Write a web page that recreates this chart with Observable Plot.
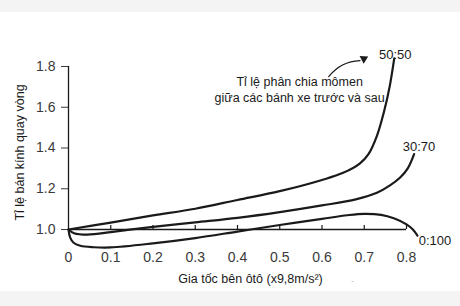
<!DOCTYPE html>
<html>
<head>
<meta charset="utf-8">
<script src="https://cdn.jsdelivr.net/npm/d3@7"></script>
<script src="https://cdn.jsdelivr.net/npm/@observablehq/plot@0.6"></script>
<style>
  html, body { margin: 0; padding: 0; background: #ffffff; }
</style>
</head>
<body>
<div id="chart"></div>
<script>
// ---- data ----
const xTicks = [0, 0.1, 0.2, 0.3, 0.4, 0.5, 0.6, 0.7, 0.8];
const yTicks = [1.0, 1.2, 1.4, 1.6, 1.8];

const s5050X = [0, 0.1, 0.2, 0.3, 0.4, 0.5, 0.6, 0.65, 0.69, 0.71, 0.73, 0.747, 0.76, 0.771];
const s5050Y = [1.0, 1.034, 1.069, 1.102, 1.145, 1.188, 1.243, 1.278, 1.325, 1.37, 1.46, 1.58, 1.70, 1.84];

const s3070X = [0, 0.013, 0.045, 0.1, 0.14, 0.2, 0.3, 0.4, 0.5, 0.6, 0.68, 0.73, 0.76, 0.785, 0.803, 0.818];
const s3070Y = [1.0, 0.982, 0.975, 0.987, 0.998, 1.013, 1.035, 1.057, 1.085, 1.118, 1.148, 1.18, 1.215, 1.255, 1.3, 1.37];

const s0100X = [0, 0.004, 0.012, 0.028, 0.06, 0.1, 0.2, 0.3, 0.4, 0.5, 0.6, 0.66, 0.7, 0.74, 0.77, 0.8, 0.815, 0.826];
const s0100Y = [1.0, 0.96, 0.935, 0.92, 0.913, 0.912, 0.932, 0.958, 0.99, 1.022, 1.052, 1.07, 1.077, 1.072, 1.055, 1.025, 1.0, 0.97];

const seriesNames = ["50:50", "30:70", "0:100"];
const labelX = [0.735, 0.791, 0.829];
const labelY = [1.855, 1.405, 0.946];

const annotation = "Tỉ lệ phân chia mômen\ngiữa các bánh xe trước và sau";
const annotX = [0.547];
const annotY = [1.69];
const arrowFrom = [0.616, 1.75];
const arrowTo = [0.69, 1.829];
const arrowHead = [0.699, 1.838];

const xLabel = "Gia tốc bên ôtô (x9,8m/s²)";
const yLabel = "Tỉ lệ bán kính quay vòng";

// ---- tables built from the arrays ----
const toRows = (xs, ys, name) => xs.map((x, i) => ({x, y: ys[i], name}));
const curves = [
  ...toRows(s5050X, s5050Y, seriesNames[0]),
  ...toRows(s3070X, s3070Y, seriesNames[1]),
  ...toRows(s0100X, s0100Y, seriesNames[2])
];
const labels = seriesNames.map((n, i) => ({name: n, x: labelX[i], y: labelY[i]}));

const ink = "#1a1a1a";
const fmtX = d => d === 0 ? "0" : d.toFixed(1);

const chart = Plot.plot({
  width: 460,
  height: 306,
  marginLeft: 68,
  marginRight: 54,
  marginTop: 66,
  marginBottom: 77,
  x: {domain: [0, 0.8]},
  y: {domain: [1.0, 1.8]},
  style: {
    fontFamily: "'Liberation Sans', Arial, sans-serif",
    background: "linear-gradient(#f4f4f4 0px, #f4f4f4 12px, #ffffff 12px, #ffffff 291px, #f4f4f4 291px)",
    color: ink
  },
  marks: [
    Plot.axisY({ticks: yTicks, tickFormat: d => d.toFixed(1), tickSize: 7, tickPadding: 6, fontSize: 14, color: "#3a3a3a", label: null}),
    Plot.axisX({ticks: xTicks, tickFormat: fmtX, tickSize: 0, tickPadding: 23, fontSize: 14, color: "#3a3a3a", label: null}),
    Plot.ruleX(xTicks.slice(1), {y1: 1.0, y2: 1.02, stroke: ink, strokeWidth: 1.2}),
    Plot.ruleY([1.0], {stroke: ink, strokeWidth: 1.3}),
    Plot.ruleX([0], {stroke: ink, strokeWidth: 1.3}),
    Plot.line(curves, {x: "x", y: "y", z: "name", curve: "catmull-rom", stroke: ink, strokeWidth: 2.2}),
    Plot.text(labels, {x: "x", y: "y", text: "name", textAnchor: "start", fontSize: 13, fill: ink}),
    Plot.text([annotation], {x: annotX, y: annotY, text: d => d, fontSize: 12.5, lineHeight: 1.24, fill: ink}),
    Plot.arrow([0], {x1: [arrowFrom[0]], y1: [arrowFrom[1]], x2: [arrowTo[0]], y2: [arrowTo[1]], bend: 25, headLength: 0, stroke: ink, strokeWidth: 1.2}),
    Plot.dot([0], {x: [arrowHead[0]], y: [arrowHead[1]], symbol: "triangle", rotate: 62, r: 3.2, fill: ink, stroke: "none"}),
    Plot.text([xLabel], {frameAnchor: "bottom", dx: 13, dy: 53, text: d => d, fontSize: 12.5, fill: ink}),
    Plot.text([yLabel], {frameAnchor: "left", textAnchor: "middle", rotate: -90, dx: -49, dy: 4.5, text: d => d, fontSize: 12.5, fill: ink}),
    Plot.text(["-"], {frameAnchor: "bottom-left", textAnchor: "middle", dx: 284, dy: 53, text: d => d, fontSize: 8, fill: "#aaaaaa"})
  ]
});
document.getElementById("chart").appendChild(chart);
</script>
</body>
</html>
